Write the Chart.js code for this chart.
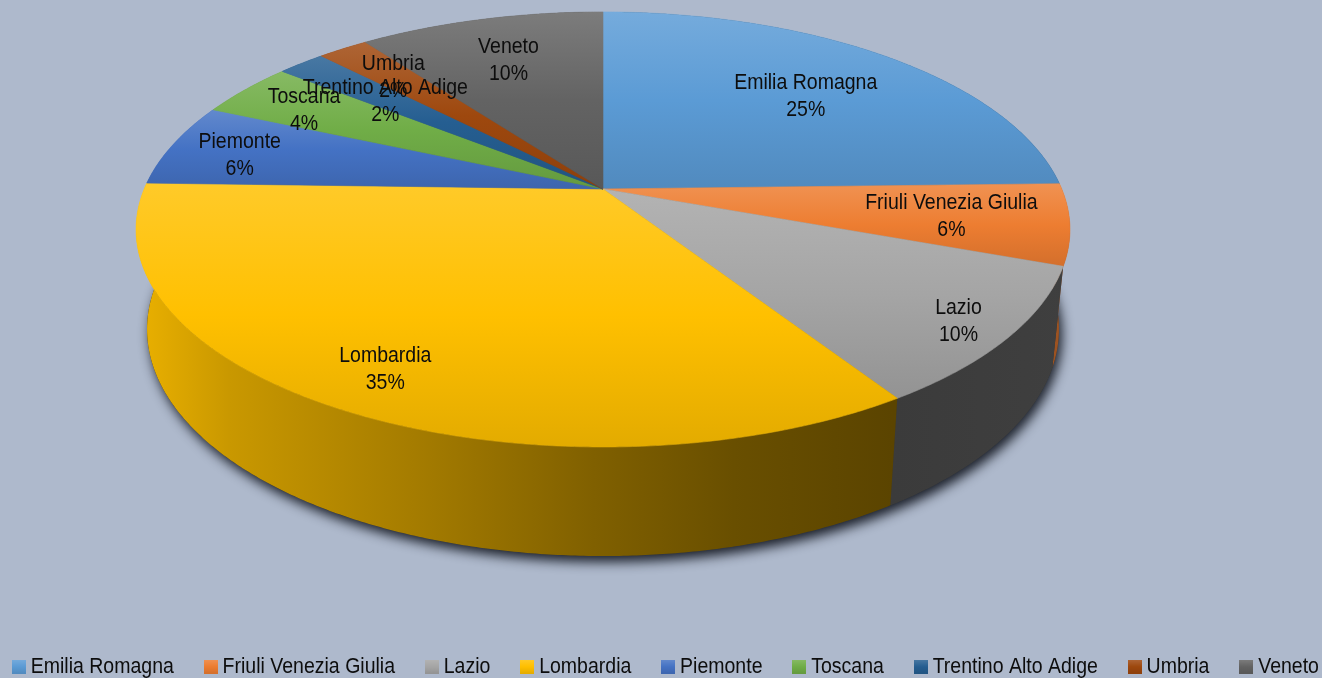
<!DOCTYPE html>
<html>
<head>
<meta charset="utf-8">
<script src="https://cdn.jsdelivr.net/npm/chart.js@4"></script>
<style>
  html, body { margin: 0; padding: 0; background: #aeb9cc; overflow: hidden; }
  canvas { display: block; }
</style>
</head>
<body>
<canvas id="myChart" width="1322" height="678"></canvas>
<script>
const regioni = ["Emilia Romagna", "Friuli Venezia Giulia", "Lazio", "Lombardia", "Piemonte", "Toscana", "Trentino Alto Adige", "Umbria", "Veneto"];
const quote = [24.6, 6.0, 10.3, 34.55, 6.2, 4.1, 2.0, 2.1, 10.15];
const colori = ["#5b9bd5", "#ed7d31", "#a5a5a5", "#ffc000", "#4472c4", "#70ad47", "#255e91", "#9e480e", "#636363"];

// how far out along the slice's middle each label sits (1 = rim), then a small nudge in px
const raggioEtichetta = [0.68, 0.75, 0.89, 0.845, 0.84, 0.81, 0.68, 0.785, 0.73];
const spostaEtichetta = [[3, 1.5], [1, 2], [0, 2], [3, 1.5], [0, 5], [-4.5, 4], [-5, 1.5], [0, 2], [-1.5, 1]];
// the side of Friuli is brighter than the light falloff alone gives
const luceFianco = [1, 1.75, 1, 1, 1, 1, 1, 1, 1];

const FONT = "'Liberation Sans', sans-serif";
const FONT_SIZE = 22.5;
const STRETTO = 0.867; // the original uses a narrow face, none installed here
const STACCO_LEGENDA = 30;

// perspective view of the disc: top face and the smaller rim underneath
const faccia = { cx: 603, cy: 189, a: 458.8, b: 210, k: -0.186 };
const fondo = { cx: 603, cy: 287, a: 448, b: 219, k: -0.186 };

function proietta(v, theta, r = 1) {
  const X = r * Math.sin(theta);
  const Y = -r * Math.cos(theta);
  const w = 1 + v.k * Y;
  return [v.cx + (v.a * X) / w, v.cy + (v.b * Y) / w];
}

function puntiArco(v, t0, t1) {
  const n = Math.max(2, Math.ceil((t1 - t0) / 0.008));
  const out = [];
  for (let i = 0; i <= n; i++) out.push(proietta(v, t0 + ((t1 - t0) * i) / n));
  return out;
}

function rgb(hex) {
  return [1, 3, 5].map((i) => parseInt(hex.substr(i, 2), 16));
}

function scurisci(hex, f) {
  const c = rgb(hex).map((v) => Math.min(255, Math.round(v * f)));
  return `rgb(${c[0]},${c[1]},${c[2]})`;
}

function schiarisci(hex, f) {
  const c = rgb(hex).map((v) => Math.round(v + (255 - v) * f));
  return `rgb(${c[0]},${c[1]},${c[2]})`;
}

function tracciato(ctx, punti) {
  ctx.beginPath();
  punti.forEach((p, i) => (i ? ctx.lineTo(p[0], p[1]) : ctx.moveTo(p[0], p[1])));
  ctx.closePath();
}

function riempiFaccia(ctx, punti, colore) {
  const ys = punti.map((p) => p[1]);
  const g = ctx.createLinearGradient(0, Math.min(...ys), 0, Math.max(...ys));
  g.addColorStop(0, schiarisci(colore, 0.16));
  g.addColorStop(0.5, colore);
  g.addColorStop(1, scurisci(colore, 0.89));
  tracciato(ctx, punti);
  ctx.fillStyle = g;
  ctx.strokeStyle = g;
  ctx.lineWidth = 0.6;
  ctx.fill();
  ctx.stroke();
}

// side wall as one path of small quads, so the outline follows the hull of both rims
function riempiFianco(ctx, sopra, sotto, colore, luce) {
  const g = ctx.createLinearGradient(136, 0, 1070, 0);
  [[0, 0.92], [0.1, 0.79], [0.32, 0.63], [0.49, 0.5], [0.64, 0.41], [0.81, 0.355], [1, 0.38]].forEach(([pos, f]) => {
    g.addColorStop(pos, scurisci(colore, f * luce));
  });
  ctx.beginPath();
  for (let i = 0; i < sopra.length - 1; i++) {
    ctx.moveTo(sopra[i][0], sopra[i][1]);
    ctx.lineTo(sopra[i + 1][0], sopra[i + 1][1]);
    ctx.lineTo(sotto[i + 1][0], sotto[i + 1][1]);
    ctx.lineTo(sotto[i][0], sotto[i][1]);
    ctx.closePath();
  }
  ctx.fillStyle = g;
  ctx.fill();
}

const torta3d = {
  id: "torta3d",
  beforeDatasetsDraw(chart) {
    const { ctx } = chart;
    const archi = chart.getDatasetMeta(0).data;
    const totale = quote.reduce((a, b) => a + b, 0);
    const fette = archi.map((arc, i) => ({
      i,
      t0: arc.startAngle + Math.PI / 2,
      t1: arc.endAngle + Math.PI / 2,
    }));

    // shadow thrown by the lower rim
    ctx.save();
    ctx.shadowColor = "rgba(20,24,34,0.95)";
    ctx.shadowBlur = 12;
    ctx.shadowOffsetX = 3;
    ctx.shadowOffsetY = 6;
    ctx.fillStyle = "#333";
    tracciato(ctx, puntiArco(fondo, 0, Math.PI * 2));
    ctx.fill();
    ctx.restore();

    // sides, back to front
    const perProfondita = [...fette].sort((p, q) => -Math.cos((p.t0 + p.t1) / 2) - -Math.cos((q.t0 + q.t1) / 2));
    perProfondita.forEach((f) => {
      riempiFianco(ctx, puntiArco(faccia, f.t0, f.t1), puntiArco(fondo, f.t0, f.t1), colori[f.i], luceFianco[f.i]);
    });

    // top faces
    fette.forEach((f) => {
      const punti = [proietta(faccia, 0, 0)].concat(puntiArco(faccia, f.t0, f.t1));
      riempiFaccia(ctx, punti, colori[f.i]);
    });

    // labels
    ctx.save();
    ctx.font = `${FONT_SIZE}px ${FONT}`;
    ctx.textAlign = "center";
    ctx.textBaseline = "middle";
    ctx.fillStyle = "#0d0d0d";
    fette.forEach((f) => {
      const [x, y] = proietta(faccia, (f.t0 + f.t1) / 2, raggioEtichetta[f.i]);
      const [dx, dy] = spostaEtichetta[f.i];
      ctx.fillText(regioni[f.i], x + dx, y + dy - 14);
      ctx.fillText(Math.round((quote[f.i] / totale) * 100) + "%", x + dx, y + dy + 13);
    });
    ctx.restore();

    return false;
  },
};

function campione(colore) {
  const c = document.createElement("canvas");
  c.width = 14;
  c.height = 14;
  const x = c.getContext("2d");
  const g = x.createLinearGradient(0, 0, 0, 14);
  g.addColorStop(0, schiarisci(colore, 0.16));
  g.addColorStop(0.5, colore);
  g.addColorStop(1, scurisci(colore, 0.89));
  x.fillStyle = g;
  x.fillRect(0, 0, 14, 14);
  return c;
}

// squeeze all text horizontally; the legend keeps its spacing through the measured width
const canvas = document.getElementById("myChart");
const c2d = canvas.getContext("2d");
c2d.textRendering = "geometricPrecision";
const scrivi = c2d.fillText.bind(c2d);
const misura = c2d.measureText.bind(c2d);
c2d.fillText = (testo, x, y) => {
  c2d.save();
  c2d.translate(x, y);
  c2d.scale(STRETTO, 1);
  scrivi(testo, 0, 0);
  c2d.restore();
};
c2d.measureText = (testo) => {
  const stacco = regioni.indexOf(testo) < regioni.length - 1 ? STACCO_LEGENDA : -20;
  return { width: misura(testo).width * STRETTO + stacco };
};

new Chart(canvas, {
  type: "pie",
  data: {
    labels: regioni,
    datasets: [{ data: quote, backgroundColor: colori }],
  },
  options: {
    responsive: false,
    animation: false,
    devicePixelRatio: 1,
    layout: { padding: { left: 12, bottom: -10 } },
    plugins: {
      tooltip: { enabled: false },
      legend: {
        position: "bottom",
        align: "start",
        labels: {
          usePointStyle: true,
          pointStyleWidth: 1.5,
          padding: 6,
          color: "#0d0d0d",
          font: { family: FONT, size: FONT_SIZE },
          generateLabels(chart) {
            const voci = Chart.overrides.pie.plugins.legend.labels.generateLabels(chart);
            voci.forEach((v, i) => (v.pointStyle = campione(colori[i])));
            return voci;
          },
        },
      },
    },
  },
  plugins: [torta3d],
});
</script>
</body>
</html>
